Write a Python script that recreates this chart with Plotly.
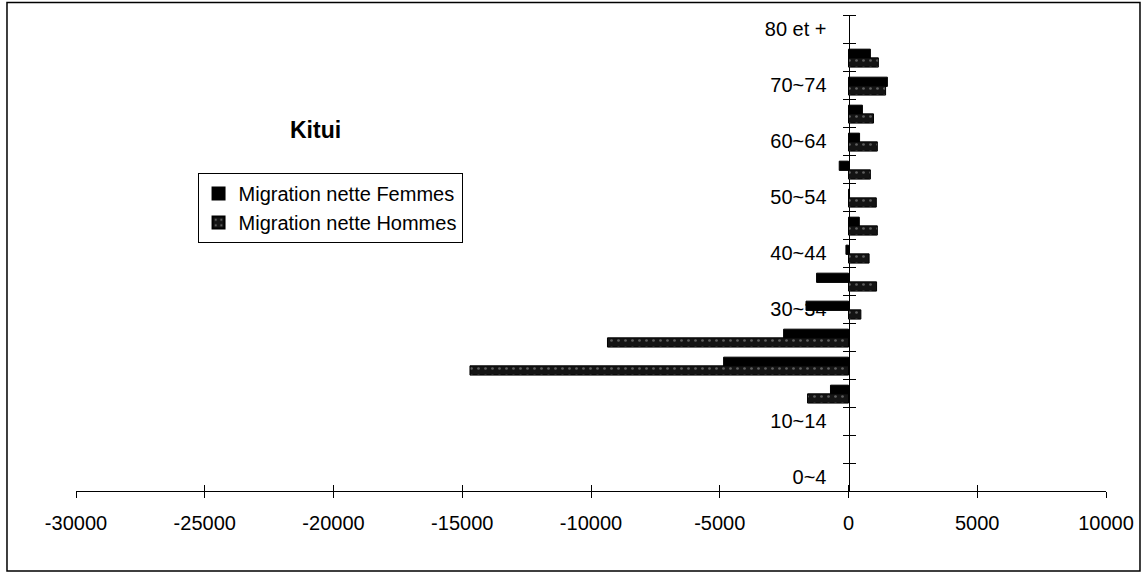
import plotly.graph_objects as go

categories = ["0~4", "5~9", "10~14", "15~19", "20~24", "25~29", "30~34", "35~39",
              "40~44", "45~49", "50~54", "55~59", "60~64", "65~69", "70~74", "75~79", "80 et +"]
femmes = [None, None, None, -700, -4850, -2520, -1650, -1240,
          -100, 420, 40, -360, 430, 540, 1510, 850, None]
hommes = [None, None, None, -1590, -14700, -9360, 480, 1090,
          800, 1120, 1080, 850, 1120, 970, 1440, 1160, None]
x_ticks = [-30000, -25000, -20000, -15000, -10000, -5000, 0, 5000, 10000]

ypos = list(range(len(categories)))
FONT = "Liberation Sans, Arial, sans-serif"

fig = go.Figure()
fig.add_trace(go.Bar(
    y=ypos, x=femmes, orientation="h", name="Migration nette Femmes",
    width=0.33, offset=-0.05,
    marker=dict(color="#000000", line=dict(color="#000000", width=1)),
))
fig.add_trace(go.Bar(
    y=ypos, x=hommes, orientation="h", name="Migration nette Hommes",
    width=0.33, offset=-0.36,
    marker=dict(color="#141414", line=dict(color="#000000", width=1),
                pattern=dict(shape=".", fgcolor="#a8a8a8", size=7, solidity=0.12)),
))
# empty helper trace so the overlay axes (crossing tick marks) are drawn
fig.add_trace(go.Scatter(x=[None], y=[None], xaxis="x2", yaxis="y2",
                         showlegend=False, hoverinfo="skip", mode="markers"))

fig.update_layout(
    width=1148, height=574,
    margin=dict(l=76, r=42, t=15, b=83),
    paper_bgcolor="white", plot_bgcolor="white",
    barmode="overlay",
    font=dict(family=FONT, size=20, color="black"),
    showlegend=True,
    legend=dict(x=0.118, y=0.668, xanchor="left", yanchor="top",
                bordercolor="black", borderwidth=1, bgcolor="white",
                font=dict(size=20, family=FONT), itemsizing="constant",
                itemwidth=30, tracegroupgap=0),
    xaxis=dict(range=[-30000, 10000], tickmode="array", tickvals=x_ticks,
               ticktext=[str(v) for v in x_ticks],
               showgrid=False, zeroline=False, showline=True, linecolor="black",
               linewidth=1, ticks="outside", ticklen=6, tickcolor="black",
               ticklabelstandoff=8, tickfont=dict(size=20, family=FONT)),
    xaxis2=dict(overlaying="x", matches="x", range=[-30000, 10000], tickmode="array",
                tickvals=x_ticks, showticklabels=False, showgrid=False, zeroline=False,
                showline=False, ticks="inside", ticklen=6, tickcolor="black",
                anchor="y", side="bottom"),
    yaxis=dict(range=[-0.5, 16.5], anchor="free", position=0.75,
               tickmode="array", tickvals=ypos[::2], ticktext=categories[::2],
               ticks="", showgrid=False, zeroline=False, showline=True,
               linecolor="black", linewidth=1, layer="below traces",
               ticklabelstandoff=18, tickfont=dict(size=20, family=FONT),
               minor=dict(ticks="outside", ticklen=6, tickcolor="black",
                          tick0=0.5, dtick=1, showgrid=False)),
    yaxis2=dict(overlaying="y", matches="y", range=[-0.5, 16.5], anchor="free",
                position=0.75, showticklabels=False, showgrid=False, zeroline=False,
                showline=False, tickmode="array", tickvals=[], ticks="",
                minor=dict(ticks="inside", ticklen=6, tickcolor="black",
                           tick0=0.5, dtick=1), side="left"),
    shapes=[dict(type="rect", xref="paper", yref="paper",
                 x0=-0.067, x1=1.033, y0=-0.168, y1=1.026,
                 line=dict(color="black", width=1.5), fillcolor="rgba(0,0,0,0)",
                 layer="below")],
    annotations=[dict(text="<b>Kitui</b>", xref="paper", yref="paper",
                      x=0.233, y=0.758, xanchor="center", yanchor="middle",
                      showarrow=False, font=dict(size=23, family=FONT))],
)

fig.write_html("out.html", config={"displayModeBar": False},
               post_script="document.body.style.margin='0px';document.body.style.overflow='hidden';")
